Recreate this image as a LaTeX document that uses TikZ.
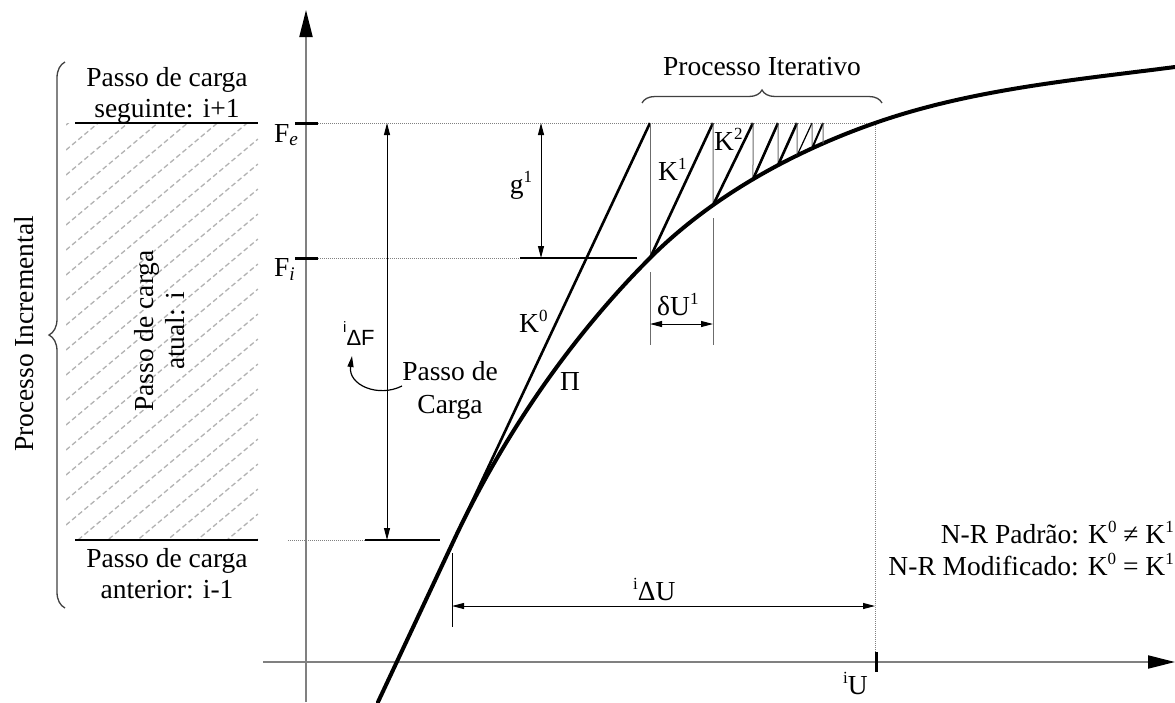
\documentclass[tikz,border=0pt]{standalone}
\usepackage{fontspec}
\setmainfont{Liberation Serif}
\newfontfamily\sansfam{Liberation Sans}
\usetikzlibrary{arrows.meta,decorations.pathreplacing,intersections}
\newcommand\upx[1]{\raisebox{0.40em}{\fontsize{17}{17}\selectfont #1}}
\begin{document}
\begin{tikzpicture}[x=1pt,y=-1pt,
  axisline/.style={draw=gray, line width=2pt, -{Triangle[length=27pt,width=13pt,color=black]}},
  dimarrow/.style={line width=1pt, {Triangle[length=12pt,width=6pt]}-{Triangle[length=12pt,width=6pt]}},
  thinline/.style={draw=gray!85!black, line width=1pt},
  dotline/.style={draw=gray, line width=1pt, densely dotted},
  levelline/.style={line width=1.5pt},
  tickline/.style={line width=3pt},
  curvestyle/.style={line width=4pt, line cap=round},
  stiff/.style={line width=2.6pt},
  hatchline/.style={draw=gray!60, line width=1.3pt, dash pattern=on 5pt off 3pt},
  bracestyle/.style={draw=black!75, line width=1.3pt, decorate, decoration={brace, amplitude=#1}},
  lbl/.style={font=\fontsize{27.5}{31}\selectfont, inner sep=0pt},
]
\useasboundingbox (0,0) rectangle (1175,702);

% hatched region
\begin{scope}
\clip (66,123) rectangle (258,540);
\foreach \k in {0,...,24} {
  \draw[hatchline] (66,{125+25*\k}) -- ++(192,-161);
}
\end{scope}
\coordinate (hl1) at (75,123); \coordinate (hr1) at (258,123);
\coordinate (hl2) at (75,540); \coordinate (hr2) at (258,540);
\draw[levelline] (hl1) -- (hr1);
\draw[levelline] (hl2) -- (hr2);

% axes
\coordinate (ya0) at (306,702); \coordinate (ya1) at (306,10);
\coordinate (xa0) at (263,662); \coordinate (xa1) at (1175,662);
\draw[axisline] (ya0) -- (ya1);
\draw[axisline] (xa0) -- (xa1);

% levels
\coordinate (fe) at (875,123);
\coordinate (fi) at (650,258);
\coordinate (fp) at (454,540);
\coordinate (tek) at (318,123); \coordinate (tes) at (295,123);
\coordinate (tik) at (318,258); \coordinate (tis) at (295,258);
\draw[dotline] (tek) -- (fe);
\coordinate (fi1) at (520,258); \coordinate (fi2) at (637,258);
\draw[dotline] (tik) -- (fi1);
\draw[line width=1.2pt] (fi1) -- (fi2);
\coordinate (fp0) at (288,540); \coordinate (fp1) at (365,540); \coordinate (fp2) at (440,540);
\draw[dotline] (fp0) -- (fp1);
\draw[line width=1.2pt] (fp1) -- (fp2);
\draw[tickline] (tes) -- (tek);
\draw[tickline] (tis) -- (tik);

% dimension arrows
\coordinate (dfa) at (387,540); \coordinate (dfb) at (387,123);
\draw[dimarrow] (dfa) -- (dfb);
\coordinate (ga) at (541,258); \coordinate (gb) at (541,123);
\draw[dimarrow] (ga) -- (gb);

% iU
\coordinate (ut1) at (876,652); \coordinate (ut2) at (876,672);
\draw[dotline] (fe) -- (875,652);
\draw[tickline] (ut1) -- (ut2);

% curve
\coordinate (cs) at (378,702); \coordinate (ce) at (1175,67);
\draw[curvestyle, name path=curve] (cs) -- (fp)
  .. controls (502.5,437) and (569.4,338.6) .. (fi)
  .. controls (711.7,196.3) and (792.9,151.7) .. (fe)
  .. controls (971.3,89.3) and (1073.8,80.1) .. (ce);

% K0 line
\coordinate (k0t) at (650,123);
\draw[stiff] (fp) -- (k0t);

% iterations
\foreach \xv/\nm in {713/c1,753/c2,778/c3,797/c4,812/c5,823/c6} {
  \path[name path=v\nm] (\xv,110) -- (\xv,300);
  \path[name intersections={of=curve and v\nm, by=\nm}];
  \coordinate (t\nm) at (\xv,123);
}
\draw[thinline] (k0t) -- (fi);
\draw[stiff] (fi) -- (tc1);
\draw[thinline] (tc1) -- (c1);
\draw[stiff] (c1) -- (tc2);
\draw[thinline] (tc2) -- (c2);
\draw[stiff] (c2) -- (tc3);
\draw[thinline] (tc3) -- (c3);
\draw[stiff] (c3) -- (tc4);
\draw[thinline] (tc4) -- (c4);
\draw[line width=1.2pt] (c4) -- (tc5);
\draw[thinline] (tc5) -- (c5);
\draw[line width=2pt] (c5) -- (tc6);
\draw[thinline] (tc6) -- (c6);

% dU1
\coordinate (e1a) at (650,272); \coordinate (e1b) at (650,345);
\coordinate (e2a) at (713,218); \coordinate (e2b) at (713,345);
\draw[thinline] (e1a) -- (e1b);
\draw[thinline] (e2a) -- (e2b);
\draw[dimarrow] (650,324) -- (713,324);

% iDU
\coordinate (e3a) at (452,553); \coordinate (e3b) at (452,627);
\draw[line width=1pt] (e3a) -- (e3b);
\draw[dimarrow] (452,606) -- (875,606);

% braces
\draw[bracestyle=16pt] (65,608) -- (65,62);
\draw[bracestyle=13pt] (642,103) -- (882,103);

% curved arrow
\coordinate (ca0) at (402,386); \coordinate (ca1) at (352,356);
\draw[line width=1.2pt, -{Triangle[length=11pt,width=6pt]}] (ca0) .. controls (378,398) and (348,385) .. (ca1);

% labels
\node[lbl, rotate=90] (pinc) at (24,334) {Processo Incremental};
\node[lbl, rotate=90, align=center] (patual) at (160,331) {Passo de carga\\atual: i};
\node[lbl, anchor=base] (ps1) at (167,86) {Passo de carga};
\node[lbl, anchor=base] (ps2) at (167,117) {seguinte: i+1};
\node[lbl, anchor=base] (pa1) at (167,567) {Passo de carga};
\node[lbl, anchor=base] (pa2) at (167,598) {anterior: i-1};
\node[lbl, anchor=base west] (lfe) at (274,142) {F\textsubscript{\textit{e}}};
\node[lbl, anchor=base west] (lfi) at (274,276) {F\textsubscript{\textit{i}}};
\node[lbl, anchor=base] (lpi) at (762,75) {Processo Iterativo};
\node[lbl, anchor=base] (lg) at (521,193) {g\upx{1}};
\node[lbl, anchor=base west] (lk0) at (519,332) {K\upx{0}};
\node[lbl, anchor=base west] (lk1) at (658,180) {K\upx{1}};
\node[lbl, anchor=base west] (lk2) at (714,150) {K\upx{2}};
\node[lbl, anchor=base west] (ldu) at (657,315) {δU\upx{1}};
\node[lbl, anchor=base west] (lpii) at (560,390) {Π};
\node[lbl, anchor=base west, font=\sansfam\fontsize{22}{22}\selectfont] (ldf) at (343,345) {\raisebox{0.55em}{\fontsize{15}{15}\selectfont i}ΔF};
\node[lbl, anchor=base] (lpc1) at (450,380) {Passo de};
\node[lbl, anchor=base] (lpc2) at (450,413) {Carga};
\node[lbl, anchor=base west] (ldu2) at (633,600) {\upx{i}ΔU};
\node[lbl, anchor=base west] (liu) at (843,694) {\upx{i}U};
\node[lbl, anchor=base east] (lnr1) at (1174,543) {N-R Padrão: K\upx{0} ≠ K\upx{1}};
\node[lbl, anchor=base east] (lnr2) at (1174,575) {N-R Modificado: K\upx{0} = K\upx{1}};
\end{tikzpicture}
\end{document}
